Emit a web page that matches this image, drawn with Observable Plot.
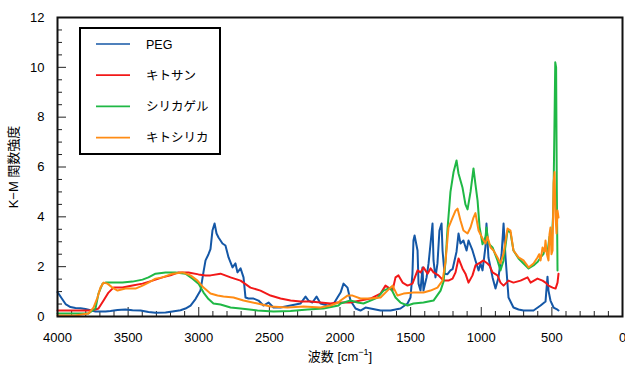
<!DOCTYPE html>
<html><head><meta charset="utf-8">
<script src="https://cdn.jsdelivr.net/npm/d3@7"></script>
<script src="https://cdn.jsdelivr.net/npm/@observablehq/plot@0.6"></script>
<style>body{margin:0;background:#fff}#chart{width:625px;height:367px}</style>
</head><body><div id="chart"></div>
<script>
// Tick labels
const xTicks = [4000, 3500, 3000, 2500, 2000, 1500, 1000, 500, 0];
const yTicks = [0, 2, 4, 6, 8, 10, 12];
const seriesNames = ["PEG", "キトサン", "シリカゲル", "キトシリカ"];
const seriesColors = ["#1457a6", "#f21818", "#1fb845", "#ff8c14"];

// [wavenumber cm^-1, K-M]
const peg = [[4000,0.98],[3979,0.8],[3943,0.5],[3908,0.38],[3873,0.34],[3837,0.33],[3802,0.3],[3766,0.25],[3731,0.2],[3696,0.2],[3660,0.2],[3625,0.22],[3575,0.26],[3519,0.28],[3469,0.25],[3412,0.24],[3356,0.18],[3306,0.15],[3235,0.16],[3186,0.2],[3129,0.25],[3094,0.32],[3058,0.44],[3023,0.7],[2988,1.04],[2966,1.8],[2952,2.25],[2931,2.5],[2917,2.7],[2903,3.45],[2888,3.73],[2874,3.33],[2860,3.17],[2832,2.93],[2811,2.85],[2789,2.37],[2761,1.97],[2740,2.13],[2726,1.77],[2704,1.93],[2683,1.57],[2669,0.76],[2648,0.72],[2612,0.72],[2577,0.64],[2542,0.44],[2506,0.56],[2471,0.36],[2421,0.36],[2350,0.44],[2280,0.52],[2244,0.8],[2223,0.64],[2195,0.56],[2166,0.8],[2138,0.52],[2088,0.44],[2046,0.5],[2018,0.76],[1996,0.96],[1975,1.32],[1947,1.16],[1926,0.64],[1890,0.32],[1855,0.24],[1819,0.36],[1784,0.32],[1713,0.24],[1642,0.24],[1572,0.32],[1522,0.52],[1501,0.76],[1487,1.72],[1480,3.05],[1472,3.25],[1451,2.65],[1444,1.32],[1430,1.04],[1416,1.97],[1409,1.04],[1387,1.57],[1373,2.13],[1359,2.93],[1345,3.73],[1338,2.25],[1324,1.57],[1310,2.13],[1296,3.45],[1281,3.73],[1274,2.65],[1260,1.72],[1239,1.7],[1218,1.85],[1203,1.9],[1175,2.6],[1161,3.33],[1147,2.93],[1126,3.05],[1104,2.65],[1090,3.05],[1062,2.65],[1041,2.25],[1019,1.85],[1005,2.13],[991,1.85],[970,2.8],[963,3.73],[949,2.37],[920,1.57],[899,1.12],[878,1.57],[856,2.5],[842,3.73],[828,2.37],[807,0.76],[772,0.36],[736,0.28],[701,0.24],[630,0.24],[580,0.44],[545,0.6],[531,1.6],[524,1.04],[510,0.64],[488,0.36],[467,0.3],[453,0.24]];

const chitosan = [[4000,0.24],[3873,0.24],[3766,0.24],[3731,0.28],[3710,0.32],[3674,0.64],[3639,0.96],[3604,1.16],[3540,1.16],[3469,1.24],[3398,1.32],[3327,1.44],[3257,1.57],[3200,1.65],[3143,1.77],[3073,1.77],[3002,1.69],[2952,1.65],[2917,1.65],[2846,1.72],[2775,1.57],[2704,1.44],[2634,1.16],[2563,1.04],[2492,0.84],[2421,0.72],[2350,0.64],[2280,0.6],[2209,0.6],[2138,0.56],[2067,0.52],[2018,0.56],[1926,0.56],[1855,0.64],[1784,0.72],[1713,0.92],[1678,1.24],[1657,1.16],[1628,1.04],[1607,1.57],[1586,1.65],[1557,1.36],[1522,1.24],[1487,1.32],[1451,1.85],[1430,1.77],[1409,1.97],[1380,1.72],[1359,1.93],[1338,1.77],[1303,1.65],[1267,1.44],[1232,1.44],[1203,1.52],[1182,1.77],[1161,2.33],[1133,1.93],[1112,1.72],[1090,1.36],[1062,1.65],[1041,2.05],[1005,2.17],[984,2.25],[956,2.13],[942,2.05],[920,1.77],[885,1.65],[864,1.36],[842,1.24],[807,1.44],[772,1.36],[722,1.44],[672,1.57],[651,1.36],[602,1.52],[566,1.44],[545,1.36],[524,1.24],[495,1.16],[474,1.12],[460,1.36],[453,1.72]];

const silica = [[4000,0.12],[3781,0.12],[3731,0.32],[3710,0.92],[3681,1.32],[3660,1.36],[3611,1.36],[3540,1.36],[3469,1.4],[3398,1.48],[3356,1.57],[3306,1.72],[3235,1.77],[3165,1.77],[3094,1.72],[3044,1.52],[3002,1.32],[2966,0.96],[2931,0.7],[2896,0.52],[2846,0.48],[2775,0.36],[2704,0.32],[2584,0.24],[2471,0.2],[2350,0.22],[2230,0.28],[2117,0.32],[2011,0.44],[1996,0.52],[1926,0.64],[1876,0.56],[1834,0.52],[1784,0.64],[1734,0.76],[1692,1.04],[1642,1.16],[1607,0.76],[1572,0.56],[1522,0.44],[1480,0.52],[1409,0.56],[1338,0.64],[1288,1.04],[1267,1.4],[1253,2.2],[1239,3.5],[1218,5.0],[1196,5.8],[1175,6.26],[1161,5.74],[1133,5.18],[1112,4.5],[1097,4.3],[1076,5.0],[1055,5.94],[1041,5.3],[1026,4.65],[1012,3.6],[991,2.9],[970,3.2],[963,3.57],[949,2.93],[920,2.77],[885,2.25],[864,1.85],[842,2.25],[814,3.45],[793,3.37],[772,2.65],[736,2.33],[701,2.13],[665,1.93],[630,2.05],[600,2.2],[580,2.37],[560,2.5],[545,2.77],[530,2.6],[517,3.2],[510,2.93],[500,3.1],[492,4.0],[488,5.0],[481,8.0],[476,10.2],[470,10.0],[465,5.0],[460,1.85]];

const chitoSilica = [[4000,0.04],[3873,0.04],[3781,0.12],[3745,0.36],[3717,0.76],[3696,1.16],[3674,1.36],[3646,1.32],[3611,1.16],[3575,1.04],[3519,1.12],[3448,1.12],[3398,1.24],[3356,1.36],[3306,1.52],[3257,1.57],[3186,1.72],[3115,1.77],[3058,1.65],[3009,1.44],[2966,1.16],[2917,0.92],[2867,0.84],[2825,0.8],[2754,0.76],[2683,0.64],[2584,0.52],[2492,0.4],[2372,0.36],[2258,0.4],[2138,0.36],[2067,0.44],[2011,0.56],[1996,0.64],[1947,0.84],[1911,0.84],[1855,0.72],[1784,0.72],[1713,0.76],[1664,1.04],[1628,1.24],[1593,0.84],[1550,0.92],[1480,0.96],[1409,0.96],[1359,1.04],[1310,1.16],[1274,1.44],[1253,2.2],[1232,3.57],[1203,3.97],[1182,4.25],[1168,4.33],[1147,3.85],[1126,3.45],[1097,3.33],[1076,3.57],[1055,3.97],[1041,4.15],[1019,3.45],[991,3.13],[970,2.93],[956,3.2],[934,2.77],[913,2.65],[885,2.37],[864,2.13],[842,2.53],[814,3.53],[793,3.45],[772,2.65],[736,2.37],[701,2.25],[665,1.97],[630,2.13],[602,2.37],[590,2.5],[580,2.25],[566,2.77],[552,2.6],[545,3.05],[535,2.5],[524,2.25],[517,3.3],[510,3.57],[503,2.5],[495,2.65],[488,5.34],[481,5.8],[474,4.0],[467,3.33],[460,4.25],[453,3.97]];

const seriesData = [peg, chitosan, silica, chitoSilica];

const xMinor = d3.range(0, 4001, 100).filter(v => v % 500 !== 0);
const yMinor = d3.range(0, 12.01, 0.5).filter(v => v % 2 !== 0);

const W = 625, H = 367, mL = 57, mR = 3, mT = 17, mB = 51;
const pw = W - mL - mR, ph = H - mT - mB;

const lineMarks = seriesData.map((s, i) =>
  Plot.line(s, {x: d => d[0], y: d => d[1], stroke: seriesColors[i], strokeWidth: 2, strokeLinejoin: "round"}));

const plot = Plot.plot({
  width: W, height: H, marginLeft: mL, marginRight: mR, marginTop: mT, marginBottom: mB,
  style: {fontFamily: "'Liberation Sans','Noto Sans CJK JP',sans-serif", background: "#fff", overflow: "visible", color: "#000"},
  x: {domain: [4000, 0], label: null},
  y: {domain: [0, 12], label: null},
  marks: [
    Plot.axisX(xTicks, {tickSize: 0, tickPadding: 16, fontSize: 13, label: null, tickFormat: d => String(d)}),
    Plot.axisY(yTicks, {tickSize: 0, tickPadding: 13, fontSize: 13, label: null, tickFormat: d => String(d)}),
    Plot.tickX(xMinor, {x: d => d, insetTop: ph - 5, stroke: "#222"}),
    Plot.tickX(xTicks, {x: d => d, insetTop: ph - 9, stroke: "#222"}),
    Plot.tickY(yMinor, {y: d => d, insetRight: pw - 5, stroke: "#222"}),
    Plot.tickY(yTicks, {y: d => d, insetRight: pw - 9, stroke: "#222"}),
    ...lineMarks,
    Plot.frame({stroke: "#111", strokeWidth: 2})
  ]
});

const svg = d3.select(plot);
const font = "'Liberation Sans','Noto Sans CJK JP',sans-serif";
// axis titles
svg.append("text").attr("transform", "translate(18,167) rotate(-90)")
  .attr("text-anchor", "middle").attr("font-size", 13).attr("font-family", font)
  .text("K−M 関数強度");
const xt = svg.append("text").attr("x", 340).attr("y", 361)
  .attr("text-anchor", "middle").attr("font-size", 13).attr("font-family", font);
xt.append("tspan").text("波数 [cm");
xt.append("tspan").attr("font-size", 9).attr("dy", -6).text("−1");
xt.append("tspan").attr("dy", 6).text("]");

// legend
const lg = svg.append("g");
lg.append("rect").attr("x", 80).attr("y", 28).attr("width", 140).attr("height", 126)
  .attr("fill", "#fff").attr("stroke", "#000").attr("stroke-width", 2);
seriesNames.forEach((n, i) => {
  const y = 44 + i * 31.2;
  lg.append("line").attr("x1", 96).attr("x2", 130).attr("y1", y).attr("y2", y)
    .attr("stroke", seriesColors[i]).attr("stroke-width", 1.7);
  lg.append("text").attr("x", 146).attr("y", y + 4.5).attr("font-size", 12.5)
    .attr("text-anchor", "start").attr("font-family", font).text(n);
});

document.getElementById("chart").appendChild(plot);
</script></body></html>
